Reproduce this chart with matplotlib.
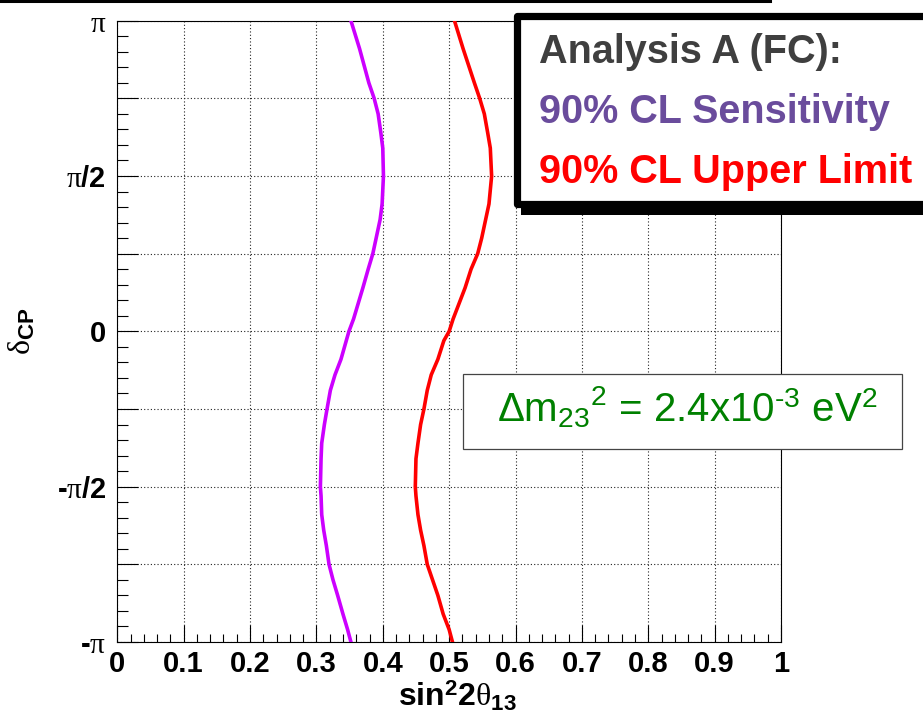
import numpy as np
import matplotlib
matplotlib.use("Agg")
import matplotlib.pyplot as plt
from matplotlib.patches import Rectangle
from matplotlib.lines import Line2D
from matplotlib.ticker import FixedLocator, MultipleLocator

plt.rcParams['font.family'] = ['Liberation Sans', 'DejaVu Sans']
plt.rcParams['mathtext.fontset'] = 'custom'
plt.rcParams['mathtext.rm'] = 'Liberation Sans'
plt.rcParams['mathtext.it'] = 'Liberation Serif'
plt.rcParams['mathtext.bf'] = 'Liberation Sans:bold'

# ---- data (delta_CP in units of pi) ----
delta_over_pi = [1.0, 0.91, 0.8, 0.75, 0.7, 0.64, 0.59, 0.5, 0.41, 0.36, 0.3, 0.25,
                 0.2, 0.14, 0.09, 0.04, 0.0, -0.03, -0.09, -0.14, -0.19, -0.25, -0.3,
                 -0.36, -0.41, -0.5, -0.53, -0.59, -0.64, -0.69, -0.75, -0.8, -0.85,
                 -0.91, -0.96, -1.0]
sensitivity = [0.352, 0.365, 0.379, 0.387, 0.393, 0.397, 0.400, 0.401, 0.399, 0.396,
               0.390, 0.385, 0.378, 0.370, 0.363, 0.356, 0.349, 0.345, 0.337, 0.328,
               0.321, 0.316, 0.312, 0.308, 0.307, 0.306, 0.307, 0.308, 0.311, 0.315,
               0.319, 0.325, 0.332, 0.340, 0.347, 0.352]
upper_limit = [0.508, 0.521, 0.538, 0.546, 0.553, 0.558, 0.562, 0.564, 0.560, 0.555,
               0.549, 0.543, 0.533, 0.524, 0.515, 0.506, 0.500, 0.492, 0.483, 0.473,
               0.467, 0.462, 0.457, 0.453, 0.450, 0.449, 0.450, 0.453, 0.457, 0.462,
               0.467, 0.475, 0.483, 0.491, 0.500, 0.505]

x_ticks = [0, 0.1, 0.2, 0.3, 0.4, 0.5, 0.6, 0.7, 0.8, 0.9, 1.0]
x_ticklabels = ['0', '0.1', '0.2', '0.3', '0.4', '0.5', '0.6', '0.7', '0.8', '0.9', '1']
y_ticks_over_pi = [-1, -0.75, -0.5, -0.25, 0, 0.25, 0.5, 0.75, 1]
y_ticklabels = [r'-$\pi$', '', r'-$\pi$/2', '', '0', '', r'$\pi$/2', '', r'$\pi$']

legend_title = 'Analysis A (FC):'
legend_sens = '90% CL Sensitivity'
legend_ul = '90% CL Upper Limit'
note_text = r'$\mathregular{\Delta m_{23}{}^{2}}$ = 2.4x10$^{\text{-3}}$ eV$^{\mathregular{2}}$'

W, H = 923, 719
fig = plt.figure(figsize=(W / 100, H / 100), dpi=100)
ax = fig.add_axes([117.3 / W, (H - 642) / H, (781 - 117.3) / W, (642 - 20.7) / H])

dy = np.array(delta_over_pi) * np.pi
ax.plot(sensitivity, dy, color='#cc00ff', lw=2.6, zorder=3)
ax.plot(upper_limit, dy, color='#ff0000', lw=2.6, zorder=3)

ax.set_xlim(0, 1)
ax.set_ylim(-np.pi, np.pi)
ax.xaxis.set_major_locator(FixedLocator(x_ticks))
ax.set_xticklabels(x_ticklabels)
ax.xaxis.set_minor_locator(MultipleLocator(0.02))
ax.yaxis.set_major_locator(FixedLocator([v * np.pi for v in y_ticks_over_pi]))
ax.set_yticklabels(y_ticklabels)
ax.yaxis.set_minor_locator(MultipleLocator(np.pi / 20))

ax.tick_params(axis='x', which='major', direction='in', length=12, width=0.8, pad=6,
               labelsize=21)
ax.tick_params(axis='x', which='minor', direction='in', length=6, width=0.8)
ax.tick_params(axis='y', which='major', direction='in', length=15, width=0.8, pad=8,
               labelsize=21)
ax.tick_params(axis='y', which='minor', direction='in', length=8, width=0.8)
for lab in ax.get_xticklabels() + ax.get_yticklabels():
    lab.set_fontweight('bold')
for s in ax.spines.values():
    s.set_linewidth(0.8)

ax.grid(True, which='major', color='#222222', linestyle=(0, (1, 2)), lw=0.8, zorder=1)
ax.set_axisbelow(True)

ax.set_xlabel(r'sin$^{\mathbf{2}}$2$\theta_{\mathbf{13}}$', fontsize=23, fontweight='bold')
ax.xaxis.set_label_coords(0.512, -0.06)
ax.set_ylabel(r'$\delta_{\mathbf{CP}}$', fontsize=23)
ax.yaxis.set_label_coords(-0.12, 0.5)

def fx(px):
    return px / W

def fy(py):
    return 1 - py / H

# top cropped line
fig.add_artist(Line2D([0, fx(770)], [fy(1.2), fy(1.2)], color='black', lw=2.2,
                      transform=fig.transFigure))

# legend box with shadow
fig.add_artist(Rectangle((fx(521), fy(215)), fx(960) - fx(521), fy(20) - fy(215),
                         facecolor='black', edgecolor='none', transform=fig.transFigure,
                         zorder=5))
fig.add_artist(Rectangle((fx(516.5), fy(204)), fx(960) - fx(516.5), fy(15.5) - fy(204),
                         facecolor='white', edgecolor='black', lw=5.2,
                         joinstyle='round', transform=fig.transFigure, zorder=6))
fig.text(fx(539), fy(63), legend_title, color='#3f3f3f', fontsize=28.5,
         fontweight='bold', va='baseline', ha='left', zorder=7)
fig.text(fx(539), fy(123), legend_sens, color='#6a4c9c', fontsize=28.5,
         fontweight='bold', va='baseline', ha='left', zorder=7)
fig.text(fx(539), fy(183), legend_ul, color='#ff0000', fontsize=28.5,
         fontweight='bold', va='baseline', ha='left', zorder=7)

# green note box
fig.add_artist(Rectangle((fx(463), fy(449)), fx(902) - fx(463), fy(374) - fy(449),
                         facecolor='white', edgecolor='#444444', lw=0.9,
                         transform=fig.transFigure, zorder=5))
fig.text(fx(497), fy(421), note_text, color='#008000', fontsize=29,
         va='baseline', ha='left', zorder=7)

fig.savefig('out.png', dpi=100)
